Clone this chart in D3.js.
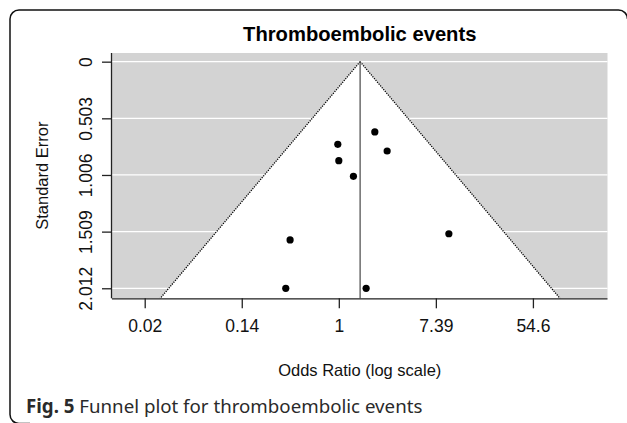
<!DOCTYPE html>
<html><head><meta charset="utf-8">
<script src="https://cdn.jsdelivr.net/npm/d3@7/dist/d3.min.js"></script>
<style>body{margin:0;background:#fff;overflow:hidden}svg{display:block}</style>
</head><body>
<script>
// Study estimates: log odds ratio and standard error
const logOR = [0.742, -0.021, 0.996, 0.000, 0.301, -1.004, 2.268, -1.093, 0.563];
const stdErr = [0.624, 0.734, 0.793, 0.879, 1.018, 1.583, 1.528, 2.012, 2.012];
const pooledLogOR = 0.439;
const xTickLogs = [-4, -2, 0, 2, 4];
const xTickLabels = ["0.02", "0.14", "1", "7.39", "54.6"];
const yTicks = [0, 0.503, 1.006, 1.509, 2.012];
const yTickLabels = ["0", "0.503", "1.006", "1.509", "2.012"];

const W = 627, H = 423;
const svg = d3.select("body").append("svg").attr("width", W).attr("height", H);

// outer rounded frame (open on the right and bottom, which fall outside the picture)
const fp = d3.path();
fp.moveTo(30, 423.5);
fp.arcTo(10, 423.5, 10, 403.5, 9);
fp.lineTo(10, 19);
fp.arcTo(10, 10, 19, 10, 9);
fp.lineTo(618, 10);
fp.arcTo(627.5, 10, 627.5, 19, 9);
svg.append("path").attr("d", fp.toString()).attr("fill", "none").attr("stroke", "#111").attr("stroke-width", 1.5);

const L = 112, R = 607.5, T = 53, B = 298.3;
const x = d3.scaleLinear().domain([-4.674, 5.537]).range([L, R]);
const y = d3.scaleLinear().domain([-0.077, 2.101]).range([T, B]);

const g = svg.append("g");
g.append("rect").attr("x", L).attr("y", T).attr("width", R - L).attr("height", B - T).attr("fill", "#d3d3d3");
// grid
g.selectAll(".grid").data(yTicks).enter().append("line")
  .attr("x1", L).attr("x2", R).attr("y1", d => y(d)).attr("y2", d => y(d))
  .attr("stroke", "#fff").attr("stroke-width", 1.2);

const seMax = y.domain()[1];
const funnel = [[pooledLogOR, 0], [pooledLogOR - 1.96 * seMax, seMax], [pooledLogOR + 1.96 * seMax, seMax]];
g.append("path").attr("d", "M" + funnel.map(p => [x(p[0]), y(p[1])].join(",")).join("L") + "Z")
  .attr("fill", "#fff");
[[funnel[0], funnel[1]], [funnel[0], funnel[2]]].forEach(seg => {
  g.append("line").attr("x1", x(seg[0][0])).attr("y1", y(seg[0][1]))
    .attr("x2", x(seg[1][0])).attr("y2", y(seg[1][1]))
    .attr("stroke", "#000").attr("stroke-width", 1.3).attr("stroke-dasharray", "1.2,1.2");
});
g.append("line").attr("x1", x(pooledLogOR)).attr("x2", x(pooledLogOR))
  .attr("y1", y(0)).attr("y2", B).attr("stroke", "#555").attr("stroke-width", 1.3);

// points
g.selectAll(".pt").data(logOR).enter().append("circle")
  .attr("cx", d => x(d)).attr("cy", (d, i) => y(stdErr[i])).attr("r", 3.6).attr("fill", "#000");

// axes
const FONT = "Liberation Sans, Arial, sans-serif";
const xAxis = d3.axisBottom(x).tickValues(xTickLogs).tickFormat((d, i) => xTickLabels[i]).tickSize(10).tickPadding(12);
const xa = svg.append("g").attr("transform", `translate(0,${B})`).call(xAxis);
xa.select(".domain").attr("d", `M${L},0.5H${R}`).attr("stroke", "#222").attr("stroke-width", 1.3);
xa.selectAll(".tick line").attr("stroke", "#222").attr("stroke-width", 1.3);
xa.selectAll("text").attr("font-family", FONT).attr("font-size", 17.5).attr("fill", "#111").attr("dy", "0.68em");

const yAxis = d3.axisLeft(y).tickValues(yTicks).tickFormat((d, i) => yTickLabels[i]).tickSize(10).tickPadding(0);
const ya = svg.append("g").attr("transform", `translate(${L},0)`).call(yAxis);
ya.select(".domain").attr("d", `M-0.5,${T}V${B}`).attr("stroke", "#222").attr("stroke-width", 1.3);
ya.selectAll(".tick line").attr("stroke", "#222").attr("stroke-width", 1.3);
ya.selectAll("text").attr("font-family", FONT).attr("font-size", 17.5).attr("fill", "#111")
  .attr("transform", "translate(-20.5,0) rotate(-90)").attr("x", 0).attr("dy", 0).attr("text-anchor", "middle");

// titles
svg.append("text").attr("x", (L + R) / 2).attr("y", 40.5).attr("text-anchor", "middle")
  .attr("font-family", FONT).attr("font-weight", "bold").attr("font-size", 20.2)
  .attr("fill", "#000").text("Thromboembolic events");
svg.append("text").attr("x", (L + R) / 2).attr("y", 376).attr("text-anchor", "middle")
  .attr("font-family", FONT).attr("font-size", 16.5)
  .attr("fill", "#111").text("Odds Ratio (log scale)");
svg.append("text").attr("transform", `translate(48.3,${(T + B) / 2}) rotate(-90)`).attr("text-anchor", "middle")
  .attr("font-family", FONT).attr("font-size", 16.5)
  .attr("fill", "#111").text("Standard Error");

// caption
const cap = svg.append("text").attr("x", 26).attr("y", 413).attr("font-family", "Noto Sans, Open Sans, sans-serif")
  .attr("font-size", 18.7).attr("fill", "#2a2a2a");
cap.append("tspan").attr("font-weight", "bold").text("Fig. 5");
cap.append("tspan").text(" Funnel plot for thromboembolic events");
</script>
</body></html>
